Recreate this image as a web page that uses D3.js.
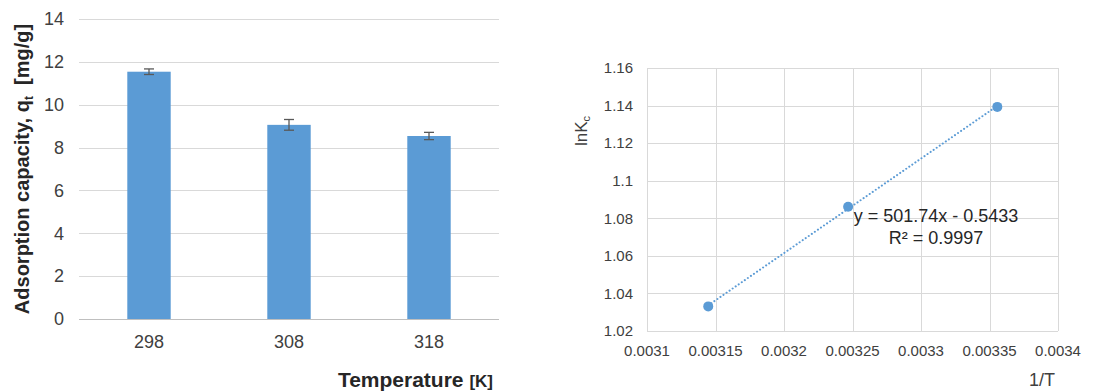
<!DOCTYPE html>
<html>
<head>
<meta charset="utf-8">
<script src="https://cdn.jsdelivr.net/npm/d3@7"></script>
<style>
  body { margin: 0; background: #fff; }
  svg { display: block; font-family: Arial, "Liberation Sans", sans-serif; }
</style>
</head>
<body>
<div id="chart"></div>
<script>
// left: adsorption capacity vs temperature
var temps = ["298", "308", "318"];
var capacity = [11.54, 9.06, 8.54];
var capErr = [0.13, 0.25, 0.17];
var capTicks = [0, 2, 4, 6, 8, 10, 12, 14];

// right: van't Hoff plot
var invT = [0.0031447, 0.0032468, 0.0033557];
var lnKc = [1.0331, 1.0861, 1.1393];
var invTTicks = [0.0031, 0.00315, 0.0032, 0.00325, 0.0033, 0.00335, 0.0034];
var lnKTicks = [1.02, 1.04, 1.06, 1.08, 1.1, 1.12, 1.14, 1.16];
var eqText = ["y = 501.74x - 0.5433", "R² = 0.9997"];

var width = 1102;
var height = 392;
var blue = "#5b9bd5";
var grid = "#d9d9d9";

var svg = d3.select('#chart')
            .append('svg')
                .attr("width", width)
                .attr("height", height);

// ---------- left chart ----------
var left = { x0: 79, x1: 499, y0: 19, y1: 319 };

var xBand = d3.scaleBand()
                .domain(temps)
                .range([left.x0, left.x1])
                .paddingInner(0.69)
                .paddingOuter(0.345);

var yCap = d3.scaleLinear()
                .domain([0, 14])
                .range([left.y1, left.y0]);

var g1 = svg.append("g");

g1.append("g")
    .selectAll("line")
    .data(capTicks)
    .enter()
    .append("line")
    .attr("x1", left.x0)
    .attr("x2", left.x1)
    .attr("y1", function(d){ return Math.round(yCap(d)) + 0.5; })
    .attr("y2", function(d){ return Math.round(yCap(d)) + 0.5; })
    .attr("stroke", function(d){ return d == 0 ? "#bfbfbf" : grid; })
    .attr("stroke-width", 1);

g1.append("g")
    .selectAll("text")
    .data(capTicks)
    .enter()
    .append("text")
    .attr("x", 64)
    .attr("y", function(d){ return yCap(d); })
    .attr("dy", "0.35em")
    .attr("text-anchor", "end")
    .attr("font-size", 18)
    .attr("fill", "#404040")
    .text(function(d){ return d; });

g1.selectAll("rect")
    .data(capacity)
    .enter()
    .append("rect")
    .attr("fill", blue)
    .attr("x", function(d, i){ return xBand(temps[i]); })
    .attr("y", function(d){ return yCap(d); })
    .attr("width", xBand.bandwidth())
    .attr("height", function(d){ return yCap(0) - yCap(d); });

var errG = g1.append("g")
    .attr("stroke", "#595959")
    .attr("stroke-width", 1.3);

capacity.forEach(function(d, i){
    var cx = xBand(temps[i]) + xBand.bandwidth() / 2;
    var hi = yCap(d + capErr[i]), lo = yCap(d - capErr[i]);
    errG.append("line").attr("x1", cx).attr("x2", cx).attr("y1", hi).attr("y2", lo);
    errG.append("line").attr("x1", cx - 5).attr("x2", cx + 5).attr("y1", hi).attr("y2", hi);
    errG.append("line").attr("x1", cx - 5).attr("x2", cx + 5).attr("y1", lo).attr("y2", lo);
});

g1.append("g")
    .selectAll("text")
    .data(temps)
    .enter()
    .append("text")
    .attr("x", function(d){ return xBand(d) + xBand.bandwidth() / 2; })
    .attr("y", 348)
    .attr("text-anchor", "middle")
    .attr("font-size", 18)
    .attr("fill", "#404040")
    .text(function(d){ return d; });

var yTitle = g1.append("text")
    .attr("transform", "translate(29," + ((left.y0 + left.y1) / 2) + ") rotate(-90)")
    .attr("text-anchor", "middle")
    .attr("font-size", 20)
    .attr("font-weight", "bold")
    .attr("fill", "#262626");
yTitle.append("tspan").text("Adsorption capacity, q");
yTitle.append("tspan").attr("font-size", 12).attr("dy", 4).text("t");
yTitle.append("tspan").attr("dy", -4).text("  [mg/g]").attr("xml:space", "preserve");

var xTitle = g1.append("text")
    .attr("x", 493)
    .attr("y", 387)
    .attr("text-anchor", "end")
    .attr("font-weight", "bold")
    .attr("fill", "#262626");
xTitle.append("tspan").attr("font-size", 21).text("Temperature ");
xTitle.append("tspan").attr("font-size", 17).text("[K]");

// ---------- right chart ----------
var right = { x0: 647, x1: 1058, y0: 68, y1: 331 };

var xInv = d3.scaleLinear()
                .domain([0.0031, 0.0034])
                .range([right.x0, right.x1]);

var yLn = d3.scaleLinear()
                .domain([1.02, 1.16])
                .range([right.y1, right.y0]);

var g2 = svg.append("g");

g2.append("g")
    .selectAll("line")
    .data(invTTicks)
    .enter()
    .append("line")
    .attr("x1", function(d){ return Math.round(xInv(d)) + 0.5; })
    .attr("x2", function(d){ return Math.round(xInv(d)) + 0.5; })
    .attr("y1", right.y0)
    .attr("y2", right.y1)
    .attr("stroke", grid);

g2.append("g")
    .selectAll("line")
    .data(lnKTicks)
    .enter()
    .append("line")
    .attr("x1", right.x0)
    .attr("x2", right.x1)
    .attr("y1", function(d){ return Math.round(yLn(d)) + 0.5; })
    .attr("y2", function(d){ return Math.round(yLn(d)) + 0.5; })
    .attr("stroke", grid);

g2.append("g")
    .selectAll("text")
    .data(lnKTicks)
    .enter()
    .append("text")
    .attr("x", 633)
    .attr("y", function(d){ return yLn(d); })
    .attr("dy", "0.35em")
    .attr("text-anchor", "end")
    .attr("font-size", 15)
    .attr("fill", "#404040")
    .text(function(d){ return d; });

g2.append("g")
    .selectAll("text")
    .data(invTTicks)
    .enter()
    .append("text")
    .attr("x", function(d){ return xInv(d); })
    .attr("y", 356)
    .attr("text-anchor", "middle")
    .attr("font-size", 15)
    .attr("fill", "#404040")
    .text(function(d){ return d; });

// least squares trendline from the points
var n = invT.length;
var mx = d3.mean(invT), my = d3.mean(lnKc);
var sxy = 0, sxx = 0;
for (var i = 0; i < n; ++i){
    sxy += (invT[i] - mx) * (lnKc[i] - my);
    sxx += (invT[i] - mx) * (invT[i] - mx);
}
var slope = sxy / sxx;
var icpt = my - slope * mx;
var xEnds = d3.extent(invT);

var lineFunc = d3.line()
                .x(function(d){ return xInv(d); })
                .y(function(d){ return yLn(slope * d + icpt); });

g2.append("path")
    .attr("d", lineFunc(xEnds))
    .attr("stroke", blue)
    .attr("stroke-width", 2)
    .attr("stroke-dasharray", "0.1,3.6")
    .attr("stroke-linecap", "round")
    .attr("fill", "none");

g2.selectAll("circle")
    .data(lnKc)
    .enter()
    .append("circle")
    .attr("cx", function(d, i){ return xInv(invT[i]); })
    .attr("cy", function(d){ return yLn(d); })
    .attr("r", 5)
    .attr("fill", blue);

g2.append("g")
    .selectAll("text")
    .data(eqText)
    .enter()
    .append("text")
    .attr("x", 936)
    .attr("y", function(d, i){ return 222 + i * 22; })
    .attr("text-anchor", "middle")
    .attr("font-size", 18)
    .attr("fill", "#262626")
    .text(function(d){ return d; });

var lnTitle = g2.append("text")
    .attr("transform", "translate(587,131) rotate(-90)")
    .attr("text-anchor", "middle")
    .attr("font-size", 17)
    .attr("fill", "#404040");
lnTitle.append("tspan").text("lnK");
lnTitle.append("tspan").attr("font-size", 11).attr("dy", 3).text("c");

g2.append("text")
    .attr("x", 1042)
    .attr("y", 386)
    .attr("text-anchor", "middle")
    .attr("font-size", 18)
    .attr("fill", "#404040")
    .text("1/T");
</script>
</body>
</html>
